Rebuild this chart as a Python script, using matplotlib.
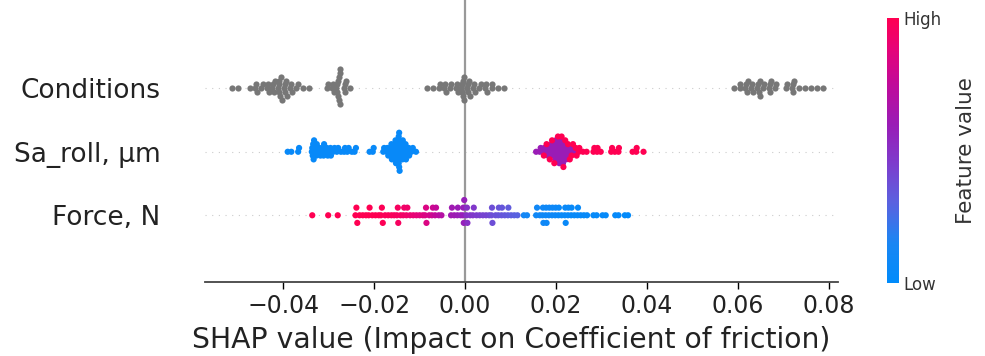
import numpy as np
import matplotlib.pyplot as plt
from matplotlib.colors import LinearSegmentedColormap
from matplotlib.cm import ScalarMappable

# 特征名（自下而上）
features = ['Force, N', 'Sa_roll, µm', 'Conditions']

# Conditions：没有特征值（灰色）
cond_shap = [-0.0512, -0.0499, -0.0473, -0.0462, -0.0460, -0.0458, -0.0449, -0.0445,
             -0.0436, -0.0434, -0.0431, -0.0424, -0.0422, -0.0420, -0.0418,
             -0.0412, -0.0410, -0.0409, -0.0408, -0.0407, -0.0405, -0.0403,
             -0.0398, -0.0396, -0.0395, -0.0393, -0.0391, -0.0384, -0.0382, -0.0380,
             -0.0371, -0.0367, -0.0356, -0.0343,
             -0.0304, -0.0302, -0.0293, -0.0291, -0.0289,
             -0.0283, -0.0282, -0.0281, -0.0280, -0.0279, -0.0278, -0.0277, -0.0276, -0.0275, -0.0274,
             -0.0267, -0.0265, -0.0263, -0.0261, -0.0253,
             -0.0083, -0.0071, -0.0058, -0.0056, -0.0046, -0.0044, -0.0042, -0.0033, -0.0031,
             -0.0020, -0.0018, -0.0016, -0.0008, -0.0007, -0.0006, -0.0005, -0.0004, -0.0003, -0.0002,
             0.0004, 0.0006, 0.0007, 0.0009, 0.0011, 0.0018, 0.0020, 0.0022, 0.0031, 0.0034,
             0.0044, 0.0046, 0.0048, 0.0058, 0.0060, 0.0072, 0.0085,
             0.0592, 0.0603, 0.0605, 0.0615, 0.0617, 0.0619, 0.0621, 0.0628, 0.0630, 0.0632,
             0.0641, 0.0643, 0.0645, 0.0647, 0.0649, 0.0655, 0.0657,
             0.0667, 0.0669, 0.0671, 0.0673, 0.0680, 0.0683, 0.0706, 0.0708,
             0.0719, 0.0720, 0.0721, 0.0723, 0.0734, 0.0747, 0.0760, 0.0773, 0.0786]

# Sa_roll
sa_blue_shap = [-0.0390, -0.0382, -0.0367, -0.0365,
                -0.0337, -0.0336, -0.0335, -0.0334, -0.0333, -0.0332,
                -0.0329, -0.0328, -0.0327, -0.0326,
                -0.0321, -0.0320, -0.0318,
                -0.0314, -0.0313, -0.0311, -0.0310,
                -0.0306, -0.0304, -0.0302,
                -0.0298, -0.0296, -0.0295,
                -0.0290, -0.0287, -0.0282, -0.0279, -0.0273,
                -0.0266, -0.0264, -0.0259, -0.0256, -0.0249, -0.0243, -0.0240,
                -0.0210, -0.0203, -0.0201,
                -0.0180, -0.0178, -0.0172, -0.0171, -0.0169,
                -0.0166, -0.0165, -0.0163, -0.0162, -0.0161,
                -0.0158, -0.0157, -0.0156, -0.0155, -0.0154, -0.0153, -0.0152,
                -0.0150, -0.0149, -0.0148, -0.0148, -0.0147, -0.0147, -0.0146, -0.0146,
                -0.0145, -0.0145, -0.0144,
                -0.0142, -0.0141, -0.0140, -0.0139, -0.0138, -0.0137,
                -0.0134, -0.0133, -0.0132, -0.0131, -0.0130,
                -0.0126, -0.0124, -0.0123, -0.0118, -0.0115, -0.0108]
sa_purple_shap = [0.0156, 0.0164, 0.0166, 0.0172, 0.0174, 0.0180, 0.0181, 0.0182,
                  0.0187, 0.0188, 0.0189, 0.0190,
                  0.0194, 0.0195, 0.0196, 0.0197, 0.0198, 0.0199,
                  0.0201, 0.0202, 0.0203, 0.0204, 0.0205, 0.0206, 0.0207,
                  0.0209, 0.0210, 0.0211, 0.0212, 0.0213, 0.0214, 0.0215,
                  0.0218, 0.0219, 0.0220, 0.0221, 0.0222,
                  0.0227, 0.0228, 0.0229, 0.0235, 0.0236, 0.0243]
sa_red_shap = [0.0173, 0.0179, 0.0186, 0.0191, 0.0196, 0.0204, 0.0212, 0.0216, 0.0220,
               0.0226, 0.0230, 0.0234, 0.0237, 0.0243, 0.0245, 0.0250, 0.0251, 0.0259, 0.0267,
               0.0282, 0.0284, 0.0290, 0.0291, 0.0298, 0.0321, 0.0323, 0.0329,
               0.0337, 0.0338, 0.0368, 0.0376, 0.0377, 0.0392]
sa_blue_value = 0.05
sa_purple_value = 0.6
sa_red_value = 1.0

# Force
force_shap = [-0.0336, -0.0301, -0.0280,
              -0.0241, -0.0239, -0.0237, -0.0232, -0.0225, -0.0218, -0.0212, -0.0210,
              -0.0204, -0.0197, -0.0190, -0.0185, -0.0183, -0.0181, -0.0176, -0.0169,
              -0.0162, -0.0156, -0.0150, -0.0148, -0.0147, -0.0142, -0.0136, -0.0134,
              -0.0129, -0.0127, -0.0121, -0.0114, -0.0107, -0.0100, -0.0093,
              -0.0088, -0.0086, -0.0085, -0.0079, -0.0073, -0.0071, -0.0066, -0.0064,
              -0.0058, -0.0052,
              -0.0031, -0.0029, -0.0024, -0.0017, -0.0016, -0.0010,
              -0.0005, -0.0004, -0.0003, -0.0002, 0.0003, 0.0004, 0.0005,
              0.0011, 0.0017, 0.0019, 0.0025, 0.0032, 0.0039, 0.0046, 0.0053,
              0.0058, 0.0059, 0.0060, 0.0067, 0.0073, 0.0074, 0.0080, 0.0081,
              0.0087, 0.0094, 0.0095, 0.0101, 0.0108, 0.0115,
              0.0129, 0.0136, 0.0156, 0.0158, 0.0164, 0.0170, 0.0171, 0.0172,
              0.0177, 0.0178, 0.0179, 0.0184, 0.0185, 0.0191, 0.0192, 0.0198, 0.0199,
              0.0205, 0.0206, 0.0212, 0.0219, 0.0220, 0.0221, 0.0226, 0.0227,
              0.0233, 0.0234, 0.0240, 0.0247, 0.0248, 0.0254, 0.0261, 0.0268,
              0.0282, 0.0289, 0.0302, 0.0309, 0.0330, 0.0337, 0.0351, 0.0358]
force_value = [1.0, 1.0, 1.0,
               1.0, 1.0, 1.0, 1.0, 1.0, 1.0, 1.0, 1.0,
               1.0, 1.0, 1.0, 0.99, 0.99, 0.99, 0.98, 0.98,
               0.97, 0.97, 0.96, 0.96, 0.96, 0.95, 0.94, 0.94,
               0.93, 0.93, 0.91, 0.9, 0.89, 0.87, 0.86,
               0.84, 0.84, 0.84, 0.82, 0.79, 0.79, 0.76, 0.76,
               0.72, 0.7,
               0.62, 0.62, 0.62, 0.6, 0.6, 0.58,
               0.58, 0.58, 0.58, 0.58, 0.5, 0.5, 0.5,
               0.48, 0.47, 0.47, 0.45, 0.44, 0.42, 0.42, 0.4,
               0.38, 0.38, 0.38, 0.37, 0.36, 0.36, 0.35, 0.35,
               0.34, 0.33, 0.33, 0.32, 0.31, 0.3,
               0.12, 0.12, 0.1, 0.1, 0.1, 0.1, 0.1, 0.1,
               0.08, 0.08, 0.08, 0.08, 0.08, 0.08, 0.08, 0.08, 0.08,
               0.06, 0.06, 0.06, 0.06, 0.06, 0.06, 0.06, 0.06,
               0.05, 0.05, 0.05, 0.05, 0.05, 0.05, 0.05, 0.05,
               0.04, 0.04, 0.04, 0.04, 0.03, 0.03, 0.02, 0.02]

red_blue = LinearSegmentedColormap.from_list(
    'red_blue', [(0.0, '#008bfb'), (0.15, '#1a86f3'), (0.3, '#5a62e0'), (0.45, '#7d3ccd'),
                 (0.6, '#9a1cb6'), (0.75, '#c00a9a'), (0.88, '#e5037a'), (1.0, '#ff0052')])


def swarm(vals, row_height=0.4, nbins=100):
    # shap 的 beeswarm 排列方式
    vals = np.asarray(vals)
    quant = np.round(nbins * (vals - vals.min()) / (vals.max() - vals.min() + 1e-8))
    inds = np.argsort(quant, kind='stable')
    ys = np.zeros(len(vals))
    layer = 0
    last_bin = -1
    for ind in inds:
        if quant[ind] != last_bin:
            layer = 0
        ys[ind] = np.ceil(layer / 2) * ((layer % 2) * 2 - 1)
        layer += 1
        last_bin = quant[ind]
    ys *= 0.9 * (row_height / np.max(ys + 1))
    return ys


fig = plt.figure(figsize=(9.85, 3.56), dpi=100)
ax = fig.add_axes([0.208, 0.208, 0.643, 0.792])

for pos in range(len(features)):
    ax.axhline(y=pos, color='#cccccc', lw=0.8, dashes=(1, 5), zorder=-1)
ax.axvline(x=0, color='#999999', lw=1.6, zorder=-1)

dot = 20

# Conditions
cs = np.array(cond_shap)
ax.scatter(cs, 2 + swarm(cs), color='#777777', s=dot, linewidth=0, zorder=3)

# Sa_roll
sa_shap = np.array(sa_blue_shap + sa_purple_shap + sa_red_shap)
sa_val = np.array([sa_blue_value] * len(sa_blue_shap) + [sa_purple_value] * len(sa_purple_shap)
                  + [sa_red_value] * len(sa_red_shap))
ax.scatter(sa_shap, 1 + swarm(sa_shap), c=sa_val, cmap=red_blue, vmin=0, vmax=1,
           s=dot, linewidth=0, zorder=3)

# Force
fs = np.array(force_shap)
ax.scatter(fs, 0 + swarm(fs), c=np.array(force_value), cmap=red_blue, vmin=0, vmax=1,
           s=dot, linewidth=0, zorder=3)

ax.set_xlim(-0.0572, 0.082)
ax.set_ylim(-1.05, 3.39)
ax.set_yticks(range(len(features)))
ax.set_yticklabels(features, fontsize=19, color='#222222')
ax.tick_params('y', length=0, pad=32)
ax.set_xticks([-0.04, -0.02, 0.0, 0.02, 0.04, 0.06, 0.08])
ax.tick_params('x', labelsize=17, labelcolor='#222222', length=5, width=1)
ax.set_xlabel('SHAP value (Impact on Coefficient of friction)', fontsize=20.3,
              color='#222222')
ax.xaxis.set_label_coords(0.484, -0.155)
for side in ['top', 'right', 'left']:
    ax.spines[side].set_visible(False)
ax.spines['bottom'].set_color('#444444')
ax.spines['bottom'].set_linewidth(1.3)

# 颜色条
cax = fig.add_axes([887 / 985, 73 / 356, 12 / 985, 265 / 356])
sm = ScalarMappable(cmap=red_blue)
sm.set_clim(0, 1)
cb = fig.colorbar(sm, cax=cax, ticks=[0, 1])
cb.set_ticklabels(['Low', 'High'])
cb.ax.tick_params(labelsize=12, length=0, labelcolor='#333333')
cb.set_label('Feature value', size=15.5, labelpad=10, color='#333333')
cb.outline.set_visible(False)

plt.savefig('out.png', dpi=100)
